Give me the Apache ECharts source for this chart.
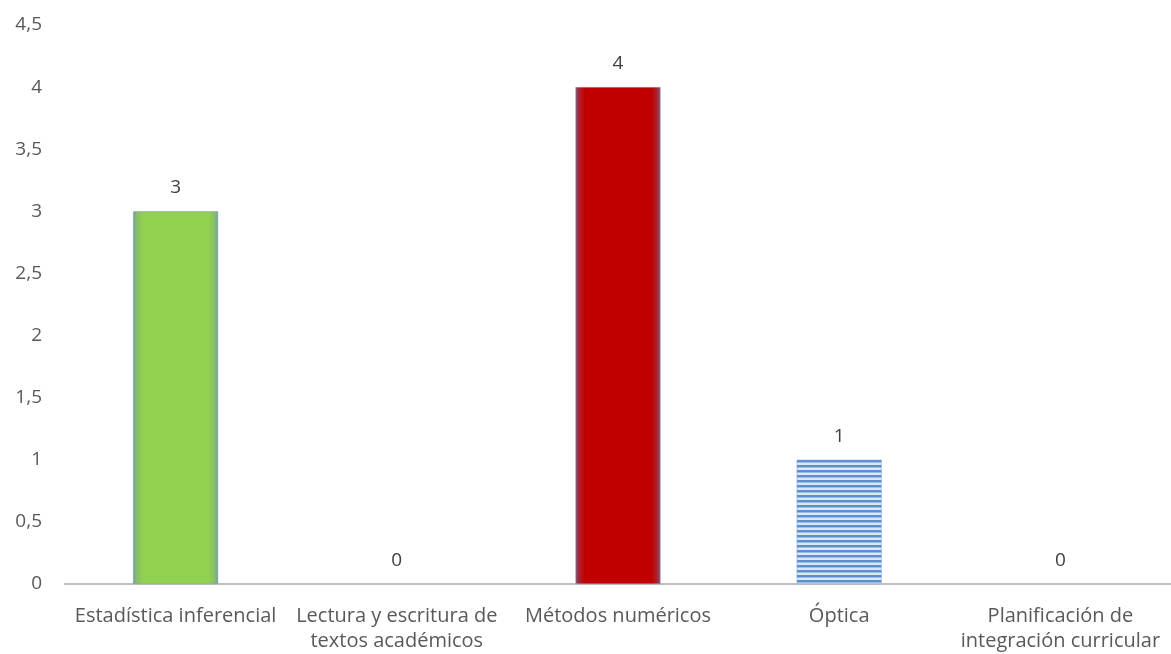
<!DOCTYPE html>
<html>
<head>
<meta charset="utf-8">
<script src="https://cdn.jsdelivr.net/npm/echarts@6/dist/echarts.min.js"></script>
<style>
html,body{margin:0;padding:0;background:#fff;}
#chart{width:1171px;height:654px;}
</style>
</head>
<body>
<div id="chart"></div>
<script>
const categories = [
  "Estadística inferencial",
  "Lectura y escritura de\ntextos académicos",
  "Métodos numéricos",
  "Óptica",
  "Planificación de\nintegración curricular"
];
const values = [3, 0, 4, 1, 0];
const yTicks = [0, 0.5, 1, 1.5, 2, 2.5, 3, 3.5, 4, 4.5];

// striped pattern for the "Óptica" bar
const pc = document.createElement('canvas');
pc.width = 10; pc.height = 5;
const pctx = pc.getContext('2d');
pctx.fillStyle = '#dce7f5'; pctx.fillRect(0,0,10,5);
pctx.fillStyle = '#5b8fd1'; pctx.fillRect(0,0,10,2);
pctx.fillStyle = '#9dbbe3'; pctx.fillRect(0,2,10,1);

function edgeGrad(edge, mid, center) {
  return {
    type: 'linear', x: 0, y: 0, x2: 1, y2: 0,
    colorStops: [
      {offset: 0, color: edge},
      {offset: 0.04, color: mid},
      {offset: 0.11, color: center},
      {offset: 0.89, color: center},
      {offset: 0.96, color: mid},
      {offset: 1, color: edge}
    ]
  };
}
const styles = [
  {color: edgeGrad('#729f94', '#86bd6c', '#92d050'), borderColor: '#7a9fb0', borderWidth: 0.5},
  {color: '#5b8fd1'},
  {color: edgeGrad('#80587c', '#a8242f', '#c00000'), borderColor: '#8a98c0', borderWidth: 0.5},
  {color: {image: pc, repeat: 'repeat'}, borderColor: '#7fa3d6', borderWidth: 0.5},
  {color: '#5b8fd1'}
];

const chart = echarts.init(document.getElementById('chart'), null, {renderer: 'canvas'});
const font = '"Open Sans", "Noto Sans", sans-serif';
chart.setOption({
  animation: false,
  backgroundColor: '#ffffff',
  grid: {left: 65, right: 0, top: 25, bottom: 70, containLabel: false},
  xAxis: {
    type: 'category',
    data: categories,
    axisLine: {lineStyle: {color: '#bfbfbf', width: 2}},
    axisTick: {show: false},
    axisLabel: {color: '#595959', fontSize: 20, fontFamily: font, interval: 0, margin: 20, lineHeight: 25}
  },
  yAxis: {
    type: 'value',
    min: yTicks[0], max: yTicks[yTicks.length - 1], interval: 0.5,
    splitLine: {show: false},
    axisLine: {show: false},
    axisTick: {show: false},
    axisLabel: {
      color: '#595959', fontSize: 19, fontFamily: font, margin: 23,
      formatter: v => String(v).replace('.', ',')
    }
  },
  series: [{
    type: 'bar',
    barWidth: 85,
    data: values.map((v, i) => ({value: v, itemStyle: styles[i]})),
    label: {
      show: true, position: 'top', distance: 14,
      color: '#404040', fontSize: 19, fontFamily: font
    }
  }]
});
</script>
</body>
</html>
